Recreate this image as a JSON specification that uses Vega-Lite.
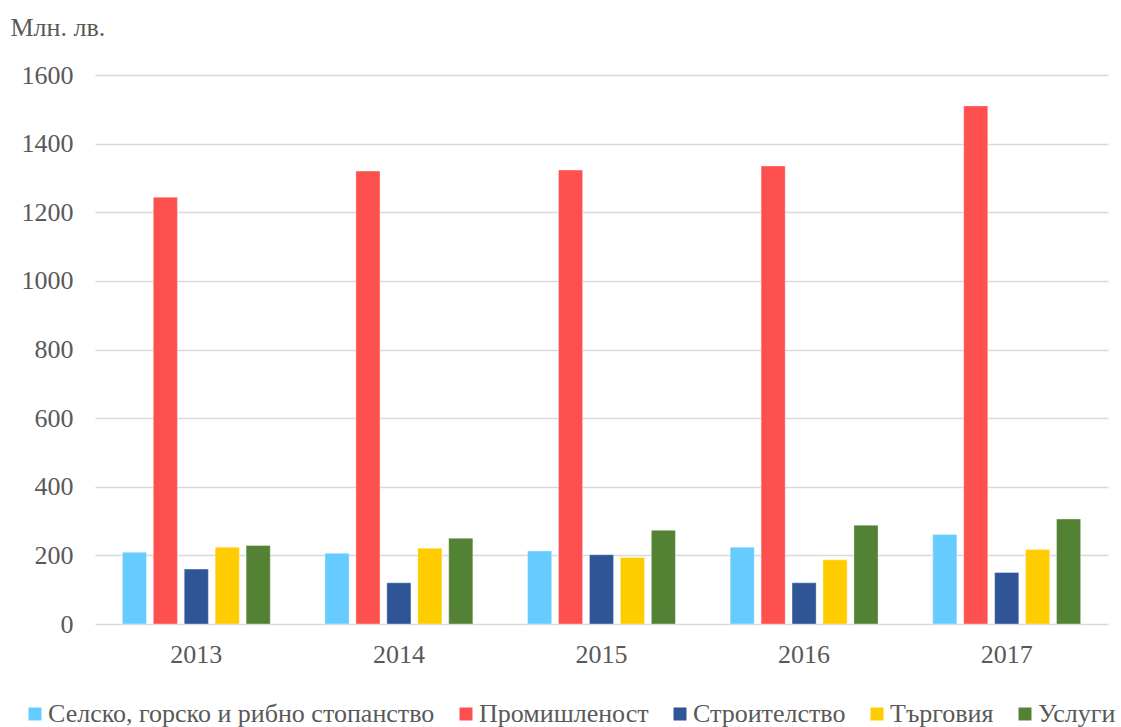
{
  "$schema": "https://vega.github.io/schema/vega-lite/v6.json",
  "autosize": "none",
  "width": 1013,
  "height": 549,
  "padding": {"left": 95, "top": 75, "right": 13, "bottom": 103},
  "background": "white",
  "data": {
    "values": [
      {"year": "2013", "sector": "Селско, горско и рибно стопанство", "value": 209},
      {"year": "2013", "sector": "Промишленост", "value": 1244},
      {"year": "2013", "sector": "Строителство", "value": 160},
      {"year": "2013", "sector": "Търговия", "value": 224},
      {"year": "2013", "sector": "Услуги", "value": 229},
      {"year": "2014", "sector": "Селско, горско и рибно стопанство", "value": 206},
      {"year": "2014", "sector": "Промишленост", "value": 1320},
      {"year": "2014", "sector": "Строителство", "value": 120},
      {"year": "2014", "sector": "Търговия", "value": 221},
      {"year": "2014", "sector": "Услуги", "value": 250},
      {"year": "2015", "sector": "Селско, горско и рибно стопанство", "value": 213},
      {"year": "2015", "sector": "Промишленост", "value": 1323},
      {"year": "2015", "sector": "Строителство", "value": 202},
      {"year": "2015", "sector": "Търговия", "value": 194},
      {"year": "2015", "sector": "Услуги", "value": 273},
      {"year": "2016", "sector": "Селско, горско и рибно стопанство", "value": 224},
      {"year": "2016", "sector": "Промишленост", "value": 1335},
      {"year": "2016", "sector": "Строителство", "value": 120},
      {"year": "2016", "sector": "Търговия", "value": 187},
      {"year": "2016", "sector": "Услуги", "value": 288},
      {"year": "2017", "sector": "Селско, горско и рибно стопанство", "value": 261},
      {"year": "2017", "sector": "Промишленост", "value": 1510},
      {"year": "2017", "sector": "Строителство", "value": 150},
      {"year": "2017", "sector": "Търговия", "value": 217},
      {"year": "2017", "sector": "Услуги", "value": 306}
    ]
  },
  "mark": {"type": "bar", "stroke": "white", "strokeWidth": 0.6, "strokeOpacity": 0.6},
  "encoding": {
    "x": {
      "field": "year",
      "type": "nominal",
      "scale": {"paddingInner": 0.27, "paddingOuter": 0.135},
      "axis": {
        "title": null,
        "labelAngle": 0,
        "labelFontSize": 26,
        "labelColor": "#595959",
        "labelPadding": 17,
        "ticks": false,
        "domain": false
      }
    },
    "xOffset": {
      "field": "sector",
      "type": "nominal",
      "sort": ["Селско, горско и рибно стопанство", "Промишленост", "Строителство", "Търговия", "Услуги"],
      "scale": {"paddingInner": 0.22}
    },
    "y": {
      "field": "value",
      "type": "quantitative",
      "scale": {"domain": [0, 1600], "nice": false},
      "axis": {
        "values": [0, 200, 400, 600, 800, 1000, 1200, 1400, 1600],
        "format": "d",
        "title": "Млн. лв.",
        "titleAngle": 0,
        "titleAlign": "left",
        "titleBaseline": "middle",
        "titleX": -85,
        "titleY": -48,
        "titleFontSize": 26,
        "titleFontWeight": "normal",
        "titleColor": "#595959",
        "labelFontSize": 26,
        "labelColor": "#595959",
        "labelPadding": 22,
        "ticks": false,
        "domain": false,
        "grid": true,
        "gridColor": "#D9D9D9",
        "gridWidth": 1.5
      }
    },
    "color": {
      "field": "sector",
      "type": "nominal",
      "sort": ["Селско, горско и рибно стопанство", "Промишленост", "Строителство", "Търговия", "Услуги"],
      "scale": {
        "domain": ["Селско, горско и рибно стопанство", "Промишленост", "Строителство", "Търговия", "Услуги"],
        "range": ["#66CCFF", "#FF5050", "#2F5597", "#FFCC00", "#548235"]
      },
      "legend": {
        "title": null,
        "orient": "none",
        "direction": "horizontal",
        "legendX": -73,
        "legendY": 626,
        "symbolType": "square",
        "symbolSize": 169,
        "symbolStrokeWidth": 0,
        "labelFontSize": 26,
        "labelColor": "#595959",
        "labelLimit": 500,
        "labelOffset": 0,
        "columnPadding": 18
      }
    }
  },
  "config": {
    "view": {"stroke": null},
    "font": "Times New Roman, Liberation Serif, serif",
    "axis": {"labelFont": "Times New Roman, Liberation Serif, serif", "titleFont": "Times New Roman, Liberation Serif, serif"},
    "legend": {"labelFont": "Times New Roman, Liberation Serif, serif"}
  }
}
